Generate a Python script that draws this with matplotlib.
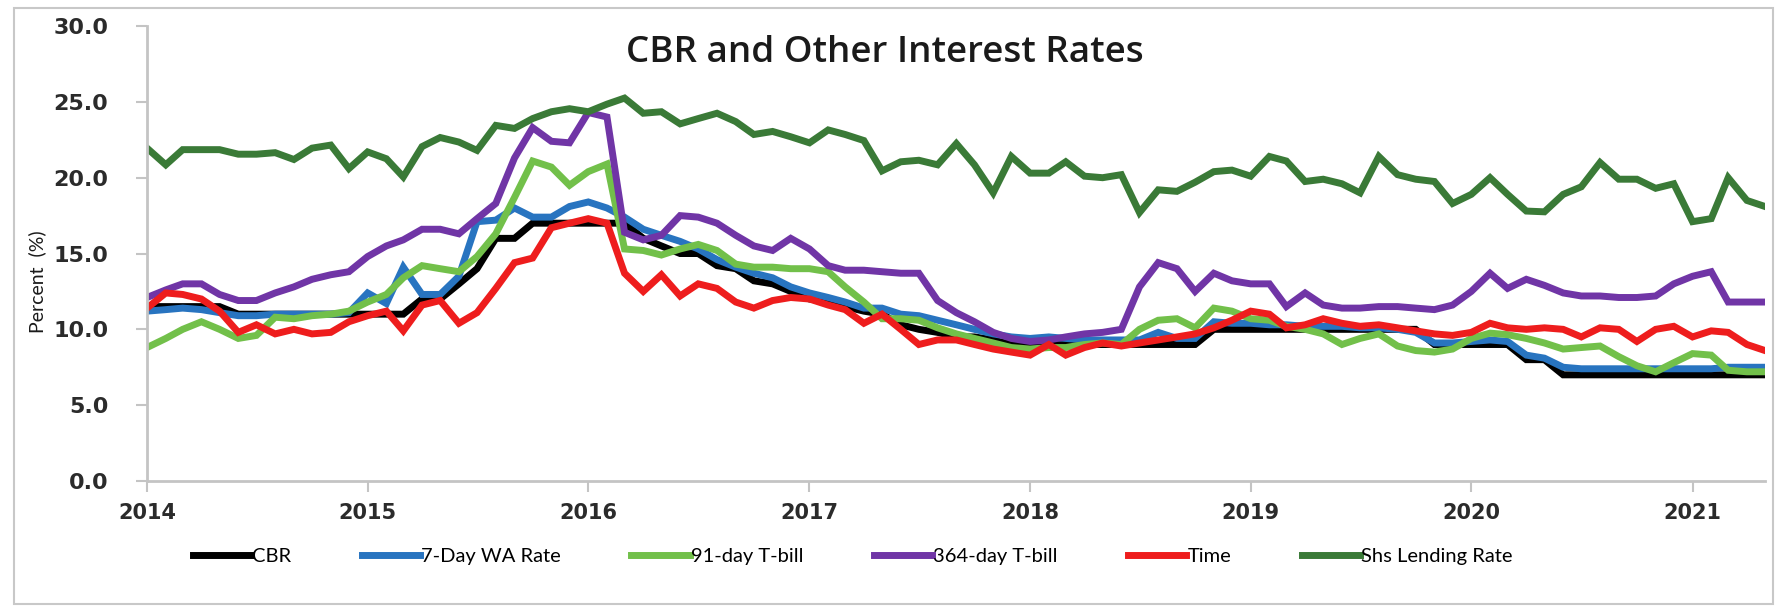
import numpy as np
import pandas as pd
import matplotlib
matplotlib.use("Agg")
import matplotlib.pyplot as plt
import matplotlib.dates as mdates
from matplotlib.patches import Rectangle

plt.rcParams['font.family'] = ['Lato', 'DejaVu Sans']

# monthly observations, Jan 2014 - May 2021
dates = pd.date_range("2014-01-01", periods=89, freq="MS")

cbr = [11.5, 11.5, 11.5, 11.5, 11.5, 11.0, 11.0, 11.0, 11.0, 11.0, 11.0, 11.0,
       11.0, 11.0, 11.0, 12.0, 12.0, 13.0, 14.0, 16.0, 16.0, 17.0, 17.0, 17.0,
       17.0, 17.0, 17.0, 16.0, 15.5, 15.0, 15.0, 14.2, 14.0, 13.2, 13.0, 12.5,
       12.0, 11.8, 11.5, 11.2, 11.0, 10.3, 10.0, 9.8, 9.5, 9.5, 9.3, 9.0,
       9.0, 9.0, 9.0, 9.0, 9.0, 9.0, 9.0, 9.0, 9.0, 9.0, 10.0, 10.0,
       10.0, 10.0, 10.0, 10.0, 10.0, 10.0, 10.0, 10.0, 10.0, 10.0, 9.0, 9.0,
       9.0, 9.0, 9.0, 8.0, 8.0, 7.0, 7.0, 7.0, 7.0, 7.0, 7.0, 7.0,
       7.0, 7.0, 7.0, 7.0, 7.0]

wa_7day = [11.2, 11.3, 11.4, 11.3, 11.1, 10.9, 10.9, 11.0, 11.0, 11.0, 11.0, 11.1,
           12.4, 11.7, 14.1, 12.3, 12.3, 13.5, 17.1, 17.2, 18.0, 17.4, 17.4, 18.1,
           18.4, 18.0, 17.4, 16.6, 16.2, 15.8, 15.3, 14.6, 14.1, 13.7, 13.4, 12.8,
           12.4, 12.1, 11.8, 11.4, 11.4, 11.0, 10.9, 10.6, 10.3, 10.0, 9.7, 9.5,
           9.4, 9.5, 9.4, 9.3, 9.3, 9.3, 9.3, 9.8, 9.4, 9.4, 10.5, 10.4,
           10.4, 10.3, 10.3, 10.2, 10.2, 10.2, 10.1, 10.1, 10.0, 9.8, 9.1, 9.1,
           9.2, 9.3, 9.2, 8.3, 8.1, 7.5, 7.4, 7.4, 7.4, 7.4, 7.4, 7.4,
           7.4, 7.4, 7.5, 7.5, 7.5]

tbill_91 = [8.8, 9.4, 10.0, 10.5, 10.0, 9.4, 9.6, 10.8, 10.7, 10.9, 11.0, 11.2,
            11.8, 12.3, 13.4, 14.2, 14.0, 13.8, 14.8, 16.3, 18.7, 21.1, 20.7, 19.5,
            20.4, 20.9, 15.3, 15.2, 14.9, 15.3, 15.6, 15.2, 14.3, 14.1, 14.1, 14.0,
            14.0, 13.8, 12.8, 11.8, 10.7, 10.7, 10.6, 10.1, 9.7, 9.4, 9.1, 8.8,
            8.7, 8.8, 8.8, 9.0, 9.1, 9.0, 10.0, 10.6, 10.7, 10.1, 11.4, 11.2,
            10.7, 10.6, 10.2, 10.0, 9.7, 9.0, 9.4, 9.7, 8.9, 8.6, 8.5, 8.7,
            9.4, 9.75, 9.65, 9.4, 9.1, 8.7, 8.8, 8.9, 8.2, 7.6, 7.2, 7.8,
            8.4, 8.3, 7.3, 7.2, 7.2]

tbill_364 = [12.1, 12.6, 13.0, 13.0, 12.3, 11.9, 11.9, 12.4, 12.8, 13.3, 13.6, 13.8,
             14.8, 15.5, 15.9, 16.6, 16.6, 16.3, 17.3, 18.3, 21.3, 23.3, 22.4, 22.3,
             24.3, 24.0, 16.4, 15.9, 16.2, 17.5, 17.4, 17.0, 16.2, 15.5, 15.2, 16.0,
             15.3, 14.2, 13.9, 13.9, 13.8, 13.7, 13.7, 11.9, 11.1, 10.5, 9.8, 9.4,
             9.2, 9.3, 9.5, 9.7, 9.8, 10.0, 12.8, 14.4, 14.0, 12.5, 13.7, 13.2,
             13.0, 13.0, 11.5, 12.4, 11.6, 11.4, 11.4, 11.5, 11.5, 11.4, 11.3, 11.6,
             12.5, 13.7, 12.7, 13.3, 12.9, 12.4, 12.2, 12.2, 12.1, 12.1, 12.2, 13.0,
             13.5, 13.8, 11.8, 11.8, 11.8]

time_dep = [11.4, 12.4, 12.3, 12.0, 11.2, 9.8, 10.3, 9.7, 10.0, 9.7, 9.8, 10.5,
            10.9, 11.2, 9.9, 11.6, 11.9, 10.4, 11.1, 12.7, 14.4, 14.7, 16.7, 17.0,
            17.3, 17.0, 13.7, 12.5, 13.6, 12.2, 13.0, 12.7, 11.8, 11.4, 11.9, 12.1,
            12.0, 11.6, 11.3, 10.4, 11.0, 10.0, 9.0, 9.3, 9.3, 9.0, 8.7, 8.5,
            8.3, 9.0, 8.3, 8.8, 9.1, 8.9, 9.1, 9.3, 9.5, 9.7, 10.1, 10.6,
            11.2, 11.0, 10.1, 10.3, 10.7, 10.4, 10.2, 10.3, 10.1, 9.9, 9.7, 9.6,
            9.8, 10.4, 10.1, 10.0, 10.1, 10.0, 9.5, 10.1, 10.0, 9.2, 10.0, 10.2,
            9.5, 9.9, 9.8, 9.0, 8.6]

lending = [21.95, 20.85, 21.85, 21.85, 21.85, 21.55, 21.55, 21.65, 21.2, 21.95, 22.15, 20.6,
           21.7, 21.25, 20.05, 22.05, 22.65, 22.35, 21.8, 23.45, 23.25, 23.9, 24.35, 24.55,
           24.35, 24.85, 25.25, 24.25, 24.35, 23.55, 23.9, 24.25, 23.7, 22.85, 23.05, 22.7,
           22.3, 23.15, 22.85, 22.45, 20.45, 21.05, 21.15, 20.85, 22.25, 20.85, 19.0, 21.4,
           20.3, 20.3, 21.05, 20.1, 20.0, 20.2, 17.7, 19.2, 19.1, 19.7, 20.4, 20.5,
           20.1, 21.4, 21.1, 19.75, 19.9, 19.6, 19.0, 21.4, 20.2, 19.9, 19.75, 18.3,
           18.9, 20.0, 18.9, 17.8, 17.75, 18.9, 19.4, 21.0, 19.9, 19.9, 19.3, 19.6,
           17.1, 17.3, 20.0, 18.5, 18.1]

series = [
    ("CBR", cbr, "#000000"),
    ("7-Day WA Rate", wa_7day, "#2874C0"),
    ("91-day T-bill", tbill_91, "#72C04A"),
    ("364-day T-bill", tbill_364, "#7035A6"),
    ("Time", time_dep, "#EE1D1D"),
    ("Shs Lending Rate", lending, "#3A7A37"),
]

fig = plt.figure(figsize=(17.8, 6.06), dpi=100)
ax = fig.add_axes([0.0826, 0.2063, 0.9090, 0.7507])

for name, vals, col in series:
    ax.plot(dates, vals, color=col, lw=5, label=name, solid_joinstyle='miter')

ax.set_xlim(dates[0], dates[-1])
ax.set_ylim(0, 30)
ax.set_yticks(np.arange(0, 31, 5))
ax.yaxis.set_major_formatter(plt.FormatStrFormatter('%.1f'))
ax.xaxis.set_major_locator(mdates.YearLocator())
ax.xaxis.set_major_formatter(mdates.DateFormatter('%Y'))

# remove borders and ticks
for s in ['top', 'right']:
    ax.spines[s].set_visible(False)
for s in ['left', 'bottom']:
    ax.spines[s].set_color('#c4c4c4')
    ax.spines[s].set_linewidth(2)
ax.tick_params(axis='both', direction='out', length=8, width=1.5, color='#c4c4c4',
               labelsize=15, labelcolor='#2b2b2b')
ax.tick_params(axis='y', pad=20, labelsize=16)
ax.tick_params(axis='x', pad=8)
for lab in ax.get_xticklabels() + ax.get_yticklabels():
    lab.set_fontweight('bold')
    lab.set_family('DejaVu Sans')

fig.text(0.497, 0.913, "CBR and Other Interest Rates", ha='center', va='center',
         fontsize=26.5, color='#1a1a1a', family='Open Sans', fontweight='semibold')
fig.text(0.021, 0.535, "Percent  (%)", rotation=90, ha='center', va='center',
         fontsize=14, color='#1a1a1a')

fig.legend(loc='center', bbox_to_anchor=(0.479, 0.081), ncol=6, frameon=False,
           fontsize=14.5, handlelength=2.9, handletextpad=0.05, columnspacing=3.5)

fig.patches.append(Rectangle((0.008, 0.004), 0.988, 0.983, transform=fig.transFigure,
                             fill=False, edgecolor='#c8c8c8', lw=1.5))

fig.savefig("out.png", dpi=100)
